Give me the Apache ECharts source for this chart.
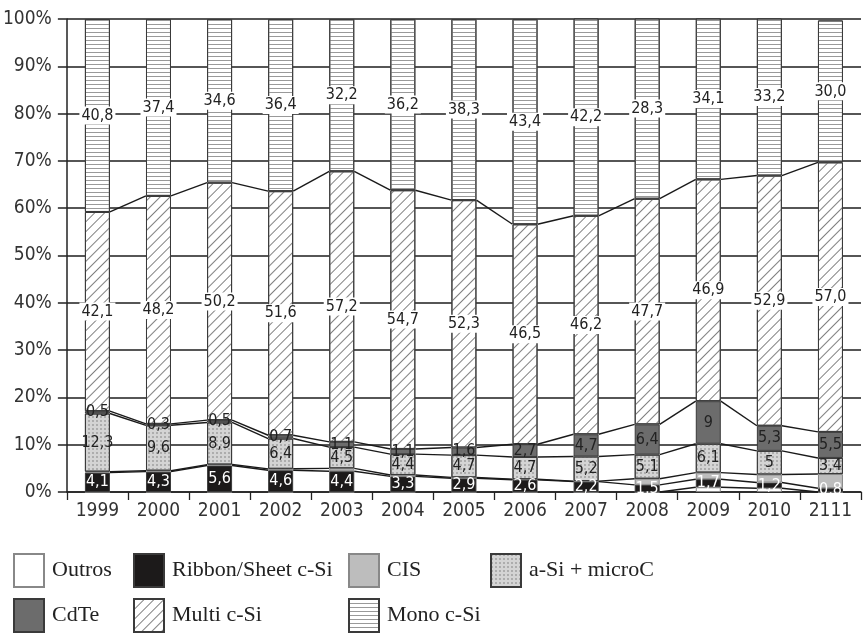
<!DOCTYPE html>
<html>
<head>
<meta charset="utf-8">
<script src="https://cdn.jsdelivr.net/npm/echarts@6/dist/echarts.min.js"></script>
<style>
html,body{margin:0;padding:0;background:#fff;}
#chart{width:864px;height:641px;}
</style>
</head>
<body>
<div id="chart"></div>
<script>
// ---- data (shares, %) ----
const years   = ['1999','2000','2001','2002','2003','2004','2005','2006','2007','2008','2009','2010','2111'];
const outros  = [0, 0, 0, 0, 0, 0, 0, 0, 0, 0, 1.0, 0.8, 0];
const ribbon  = [4.1, 4.3, 5.6, 4.6, 4.4, 3.3, 2.9, 2.6, 2.2, 1.5, 1.7, 1.2, 0.8];
const cis     = [0.2, 0.2, 0.2, 0.3, 0.6, 0.3, 0.2, 0.1, 0.1, 1.3, 1.4, 1.7, 3.0];
const aSi     = [12.3, 9.6, 8.9, 6.4, 4.5, 4.4, 4.7, 4.7, 5.2, 5.1, 6.1, 5, 3.4];
const cdte    = [0.5, 0.3, 0.5, 0.7, 1.1, 1.1, 1.6, 2.7, 4.7, 6.4, 9, 5.3, 5.5];
const multi   = [42.1, 48.2, 50.2, 51.6, 57.2, 54.7, 52.3, 46.5, 46.2, 47.7, 46.9, 52.9, 57.0];
const mono    = [40.8, 37.4, 34.6, 36.4, 32.2, 36.2, 38.3, 43.4, 42.2, 38.3, 34.1, 33.2, 30.0];
// printed labels for Mono c-Si (the 2008 label reads 28,3 in the source)
const monoLabels = ['40,8','37,4','34,6','36,4','32,2','36,2','38,3','43,4','42,2','28,3','34,1','33,2','30,0'];

const FONT = '"DejaVu Sans Condensed", "DejaVu Sans", sans-serif';
const SERIF = '"Liberation Serif", "DejaVu Serif", serif';
const BAR_W = 25;

const comma = v => String(v).replace('.', ',');
const fixed1 = v => Number(v).toFixed(1).replace('.', ',');

function barSeries(name, data, color, opts) {
  return Object.assign({
    name, type: 'bar', stack: 'total', data, barWidth: BAR_W,
    itemStyle: { color, borderColor: '#3a3a3a', borderWidth: 1 },
    emphasis: { disabled: true },
    z: 2
  }, opts || {});
}

const labelBase = { show: true, position: 'inside', fontFamily: FONT, fontSize: 16, color: '#222' };

const boundaries = [outros, ribbon, cis, aSi, cdte, multi];
function cum(i, k) { let s = 0; for (let j = 0; j <= k; j++) s += boundaries[j][i]; return s; }

const chart = echarts.init(document.getElementById('chart'), null, { renderer: 'canvas' });

const legendPos = [
  ['Outros', 13, 553], ['Ribbon/Sheet c-Si', 133, 553], ['CIS', 348, 553], ['a-Si + microC', 490, 553],
  ['CdTe', 13, 598], ['Multi c-Si', 133, 598], ['Mono c-Si', 348, 598]
];

const option = {
  animation: false,
  backgroundColor: '#fff',
  grid: { left: 63, right: 3, top: 19, bottom: 149, containLabel: false },
  legend: legendPos.map(([n, x, y]) => ({
    data: [n], left: x - 5, top: y - 5, itemWidth: 30, itemHeight: 33, icon: 'rect', selectedMode: false,
    textStyle: { fontFamily: SERIF, fontSize: 22, color: '#222', padding: [0, 0, 0, 3] }
  })),
  xAxis: {
    type: 'category', data: years,
    axisLine: { lineStyle: { color: '#222', width: 1.5 } },
    axisTick: { show: true, length: 8, lineStyle: { color: '#222', width: 1.3 } },
    axisLabel: { fontFamily: FONT, fontSize: 19, color: '#333', margin: 10 }
  },
  yAxis: {
    type: 'value', min: 0, max: 100, interval: 10,
    axisLine: { show: true, lineStyle: { color: '#222', width: 1.5 } },
    axisTick: { show: true, length: 9, lineStyle: { color: '#222', width: 1.5 } },
    axisLabel: { fontFamily: FONT, fontSize: 19, color: '#333', margin: 15, formatter: '{value}%' },
    splitLine: { lineStyle: { color: '#1e1e1e', width: 1.5 } }
  },
  series: [
    barSeries('Outros', outros, '#ffffff', { itemStyle: { color: '#fff', borderColor: '#888', borderWidth: 1 } }),
    barSeries('Ribbon/Sheet c-Si', ribbon, '#1c1a1a', {
      label: Object.assign({}, labelBase, { color: '#fff', formatter: p => comma(p.value) })
    }),
    barSeries('CIS', cis, '#bdbdbd', { itemStyle: { color: '#bdbdbd', borderColor: '#888', borderWidth: 1 } }),
    barSeries('a-Si + microC', aSi, '#d2d2d2', {
      itemStyle: { color: '#d4d4d4', borderColor: '#3a3a3a', borderWidth: 1,
        decal: { symbol: 'circle', symbolSize: 0.9, color: '#9a9a9a', dashArrayX: [2, 2], dashArrayY: [2, 2] } },
      label: Object.assign({}, labelBase, { formatter: p => comma(p.value) })
    }),
    barSeries('CdTe', cdte, '#6c6c6c', {
      label: Object.assign({}, labelBase, { formatter: p => comma(p.value) })
    }),
    barSeries('Multi c-Si', multi, '#ffffff', {
      itemStyle: { color: '#fff', borderColor: '#3a3a3a', borderWidth: 1,
        decal: { symbol: 'rect', symbolSize: 1, color: '#808080', dashArrayX: [1, 0], dashArrayY: [1, 6], rotation: -Math.PI / 4 } },
      label: Object.assign({}, labelBase, { backgroundColor: '#fff', padding: [1, 2], formatter: p => fixed1(p.value) })
    }),
    barSeries('Mono c-Si', mono, '#ffffff', {
      itemStyle: { color: '#fff', borderColor: '#3a3a3a', borderWidth: 1,
        decal: { symbol: 'rect', symbolSize: 1, color: '#999', dashArrayX: [1, 0], dashArrayY: [1, 3] } },
      label: Object.assign({}, labelBase, { backgroundColor: '#fff', padding: [1, 2], formatter: p => monoLabels[p.dataIndex] })
    }),
    {
      name: 'seriesLines', type: 'custom', coordinateSystem: 'cartesian2d', z: 5, silent: true,
      data: years.slice(0, -1).map((y, i) => [i, 0]),
      renderItem: function (params, api) {
        const i = api.value(0);
        const half = BAR_W / 2;
        const children = [];
        for (let k = 0; k < boundaries.length; k++) {
          const a = cum(i, k), b = cum(i + 1, k);
          if (a === 0 && b === 0) continue;
          const p1 = api.coord([i, a]);
          const p2 = api.coord([i + 1, b]);
          children.push({ type: 'line', shape: { x1: p1[0] + half, y1: p1[1], x2: p2[0] - half, y2: p2[1] },
            style: { stroke: '#1a1a1a', lineWidth: 1.4 } });
        }
        return { type: 'group', children };
      }
    }
  ]
};
chart.setOption(option);
</script>
</body>
</html>
